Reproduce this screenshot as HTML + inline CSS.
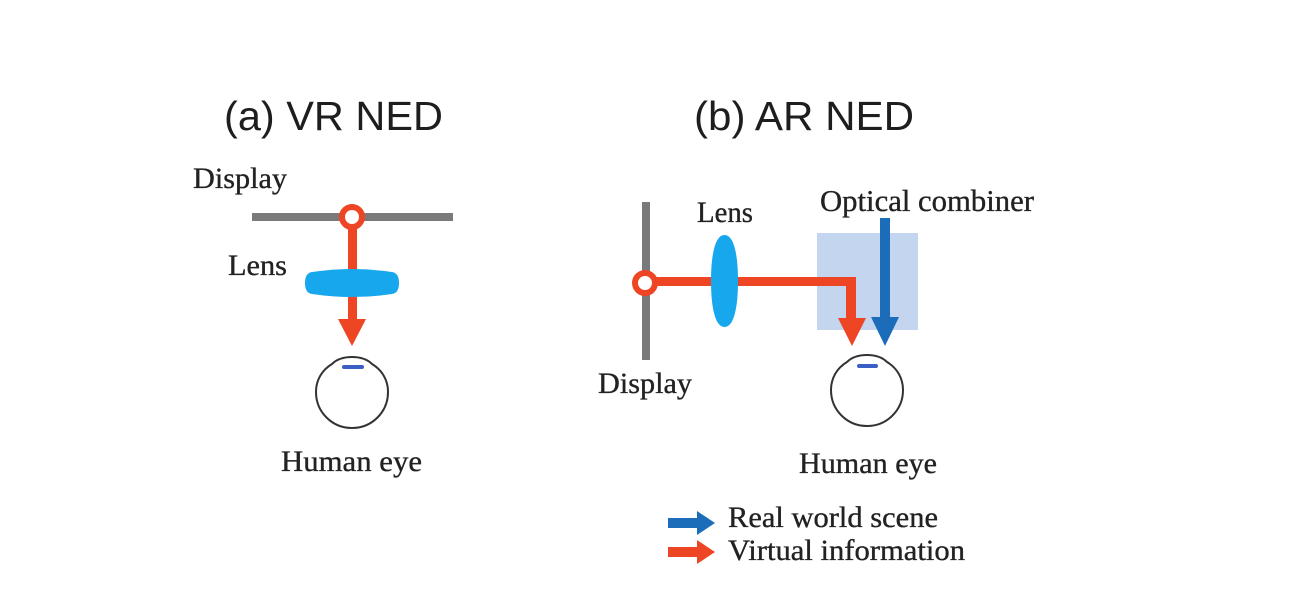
<!DOCTYPE html>
<html>
<head>
<meta charset="utf-8">
<style>
  html,body{margin:0;padding:0;background:#fff;}
  body{width:1314px;height:605px;overflow:hidden;}
  svg{display:block;}
  .serif{font-family:"Liberation Serif",serif;fill:#222;stroke:#222;stroke-width:0.35;}
  .sans{font-family:"Liberation Sans",sans-serif;fill:#1e1e1e;}
</style>
</head>
<body>
<svg width="1314" height="605" viewBox="0 0 1314 605" xmlns="http://www.w3.org/2000/svg">
  <rect width="1314" height="605" fill="#ffffff"/>

  <!-- Titles -->
  <text class="sans" x="224" y="130" font-size="41" textLength="219" lengthAdjust="spacingAndGlyphs">(a) VR NED</text>
  <text class="sans" x="694" y="130" font-size="41" textLength="220" lengthAdjust="spacingAndGlyphs">(b) AR NED</text>

  <!-- ===== (a) VR NED ===== -->
  <text class="serif" x="193" y="188" font-size="30" textLength="94" lengthAdjust="spacingAndGlyphs">Display</text>
  <rect x="252" y="213" width="201" height="8" fill="#7a7a7a"/>
  <!-- red ray -->
  <rect x="348" y="222" width="9" height="98" fill="#ee4524"/>
  <polygon points="338,319 366,319 352,346" fill="#ee4524"/>
  <circle cx="352" cy="217" r="10" fill="#fff" stroke="#ee4524" stroke-width="6"/>
  <!-- lens -->
  <text class="serif" x="228" y="275" font-size="30" textLength="59" lengthAdjust="spacingAndGlyphs">Lens</text>
  <path d="M312 272 Q352 266 392 272 Q399 273 399 283 Q399 293 392 294 Q352 300 312 294 Q305 293 305 283 Q305 273 312 272 Z" fill="#17a7ec"/>
  <!-- eye -->
  <path d="M352 357 C 362 357 368 360 372 364 C 382 370 388 380 388 392 C 388 412 372 428 352 428 C 332 428 316 412 316 392 C 316 380 322 370 332 364 C 336 360 342 357 352 357 Z" fill="none" stroke="#333" stroke-width="2"/>
  <rect x="342" y="365" width="22" height="4" rx="2" fill="#3a5fc4"/>
  <text class="serif" x="281" y="471" font-size="30" textLength="141" lengthAdjust="spacingAndGlyphs">Human eye</text>

  <!-- ===== (b) AR NED ===== -->
  <!-- combiner -->
  <rect x="817" y="233" width="101" height="97" fill="#c4d5f0"/>
  <!-- display -->
  <rect x="642" y="202" width="8" height="158" fill="#7a7a7a"/>
  <text class="serif" x="598" y="393" font-size="30" textLength="94" lengthAdjust="spacingAndGlyphs">Display</text>
  <!-- red ray -->
  <rect x="650" y="277" width="206" height="9" fill="#ee4524"/>
  <rect x="846" y="277" width="10" height="43" fill="#ee4524"/>
  <polygon points="838,318 866,318 852,346" fill="#ee4524"/>
  <circle cx="645" cy="283" r="10" fill="#fff" stroke="#ee4524" stroke-width="6"/>
  <!-- lens -->
  <text class="serif" x="697" y="222" font-size="30" textLength="56" lengthAdjust="spacingAndGlyphs">Lens</text>
  <path d="M724.5 235 C 734 235 738 255 738 281 C 738 307 734 327 724.5 327 C 715 327 711 307 711 281 C 711 255 715 235 724.5 235 Z" fill="#17a7ec"/>
  <!-- blue arrow -->
  <rect x="880" y="218" width="10" height="101" fill="#1b6db9"/>
  <polygon points="871,317 899,317 885,346" fill="#1b6db9"/>
  <text class="serif" x="820" y="211" font-size="31" textLength="214" lengthAdjust="spacingAndGlyphs">Optical combiner</text>
  <!-- eye -->
  <path d="M867 355 C 877 355 883 358 887 362 C 897 368 903 378 903 390 C 903 410 887 426 867 426 C 847 426 831 410 831 390 C 831 378 837 368 847 362 C 851 358 857 355 867 355 Z" fill="none" stroke="#333" stroke-width="2"/>
  <rect x="857" y="364" width="21" height="4" rx="2" fill="#3a5fc4"/>
  <text class="serif" x="799" y="473" font-size="30" textLength="138" lengthAdjust="spacingAndGlyphs">Human eye</text>

  <!-- legend -->
  <rect x="668" y="518" width="32" height="10" fill="#1b6db9"/>
  <polygon points="697,511 715,523 697,535" fill="#1b6db9"/>
  <text class="serif" x="728" y="527" font-size="30" textLength="210" lengthAdjust="spacingAndGlyphs">Real world scene</text>
  <rect x="668" y="547" width="32" height="10" fill="#ee4524"/>
  <polygon points="697,540 715,552 697,564" fill="#ee4524"/>
  <text class="serif" x="728" y="560" font-size="30" textLength="237" lengthAdjust="spacingAndGlyphs">Virtual information</text>
</svg>
</body>
</html>
